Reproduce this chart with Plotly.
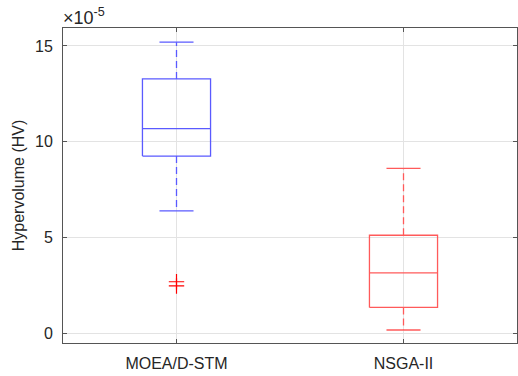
import plotly.graph_objects as go

categories = ["MOEA/D-STM", "NSGA-II"]
positions = [1, 2]
lower_whisker = [6.38, 0.16]
q1 = [9.25, 1.34]
median = [10.68, 3.14]
q3 = [13.28, 5.11]
upper_whisker = [15.2, 8.61]
outliers = [[2.68, 2.46], []]
colors = ["rgb(90,90,255)", "rgb(255,90,90)"]
outlier_color = "red"
y_ticks = [0, 5, 10, 15]

BOX_HALF = 0.15
CAP_HALF = 0.075

fig = go.Figure()
for i, p in enumerate(positions):
    c = colors[i]
    fig.add_trace(go.Scatter(
        x=[p - BOX_HALF, p + BOX_HALF, p + BOX_HALF, p - BOX_HALF, p - BOX_HALF],
        y=[q1[i], q1[i], q3[i], q3[i], q1[i]],
        mode="lines", line=dict(color=c, width=1.3), hoverinfo="skip"))
    fig.add_trace(go.Scatter(x=[p - BOX_HALF, p + BOX_HALF], y=[median[i], median[i]],
                             mode="lines", line=dict(color=c, width=1.3)))
    fig.add_trace(go.Scatter(x=[p, p], y=[q3[i], upper_whisker[i]], mode="lines",
                             line=dict(color=c, width=1.3, dash="7px,4px")))
    fig.add_trace(go.Scatter(x=[p, p], y=[q1[i], lower_whisker[i]], mode="lines",
                             line=dict(color=c, width=1.3, dash="7px,4px")))
    fig.add_trace(go.Scatter(x=[p - CAP_HALF, p + CAP_HALF], y=[upper_whisker[i]] * 2,
                             mode="lines", line=dict(color=c, width=1.3)))
    fig.add_trace(go.Scatter(x=[p - CAP_HALF, p + CAP_HALF], y=[lower_whisker[i]] * 2,
                             mode="lines", line=dict(color=c, width=1.3)))
    if outliers[i]:
        fig.add_trace(go.Scatter(x=[p] * len(outliers[i]), y=outliers[i], mode="markers",
                                 marker=dict(symbol="cross-thin", size=11,
                                             line=dict(color=outlier_color, width=1.2))))

FONT = "Liberation Sans, Arial"
axis_common = dict(showline=True, linecolor="#555555", linewidth=1, mirror="ticks",
                   ticks="inside", ticklen=4, tickcolor="#555555",
                   showgrid=True, gridcolor="#e3e3e3", gridwidth=1, zeroline=False,
                   tickfont=dict(family=FONT, size=16, color="#262626"))

fig.update_layout(
    width=518, height=376,
    margin=dict(l=63, r=1, t=28, b=33),
    paper_bgcolor="white", plot_bgcolor="white",
    showlegend=False,
    xaxis=dict(range=[0.5, 2.5], tickvals=positions, ticktext=categories,
               ticklabelstandoff=6, **axis_common),
    yaxis=dict(range=[-0.52, 15.94], tickvals=y_ticks, ticklabelstandoff=6,
               title=dict(text="Hypervolume (HV)", standoff=6,
                          font=dict(family=FONT, size=16, color="#262626")),
               **axis_common),
)
fig.add_annotation(text="×10<sup>-5</sup>", xref="paper", yref="paper", x=0, y=1,
                   xanchor="left", yanchor="bottom", showarrow=False, yshift=-2, xshift=-2,
                   font=dict(family=FONT, size=18, color="#262626"))

fig.write_html("out.html")
